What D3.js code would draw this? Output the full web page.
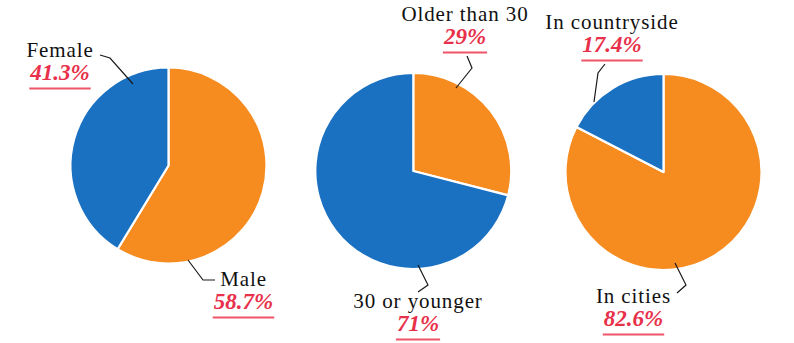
<!DOCTYPE html>
<html><head><meta charset="utf-8">
<script src="https://cdn.jsdelivr.net/npm/d3@7/dist/d3.min.js"></script>
<style>html,body{margin:0;padding:0;background:#fff;}</style>
</head><body>
<svg id="chart" width="794" height="343"></svg>
<script>
// ---- data ----
const pieTitles = ["Gender", "Age", "Residence"];
const firstLabels = ["Male", "Older than 30", "In cities"];
const secondLabels = ["Female", "30 or younger", "In countryside"];
const firstValues = [58.7, 29, 82.6];
const secondValues = [41.3, 71, 17.4];
const valueText = [["58.7%", "41.3%"], ["29%", "71%"], ["82.6%", "17.4%"]];

// ---- layout ----
const R = 98;
const centers = [[168.5, 165.5], [413.3, 171], [663.5, 172]];
const colors = ["#F68B1F", "#1A70C1"];
const labelLayout = [
  [ {x: 243.5, y: 286, leader: [[19.5, 94.5], [34.5, 114.5], [46.5, 114.5]]},
    {x: 60, y: 57, leader: [[-35.5, -81.5], [-58.5, -107.5], [-68.5, -110.5]]} ],
  [ {x: 465, y: 21, leader: [[42.7, -83], [58.7, -103], [53.7, -115]]},
    {x: 418, y: 308, leader: [[4.7, 94], [14.7, 114], [4.7, 121]]} ],
  [ {x: 633.5, y: 303, leader: [[11.5, 91], [22.5, 113], [13.5, 121]]},
    {x: 612, y: 29, leader: [[-69.5, -70], [-65.5, -99], [-58.5, -108]]} ]
];

const svg = d3.select("#chart");
const pie = d3.pie().sort(null).value(d => d.v);
const arc = d3.arc().innerRadius(0).outerRadius(R);
const FONT = '"Liberation Serif"';

pieTitles.forEach((t, i) => {
  const data = [
    {name: firstLabels[i], v: firstValues[i], txt: valueText[i][0], c: colors[0]},
    {name: secondLabels[i], v: secondValues[i], txt: valueText[i][1], c: colors[1]}
  ];
  const [cx, cy] = centers[i];
  const g = svg.append("g").attr("transform", `translate(${cx},${cy})`);
  g.selectAll("path.slice").data(pie(data)).join("path")
    .attr("class", "slice")
    .attr("d", arc)
    .attr("fill", d => d.data.c)
    .attr("stroke", "#fff")
    .attr("stroke-width", 2.2)
    .attr("stroke-linejoin", "round");

  data.forEach((d, j) => {
    const L = labelLayout[i][j];
    g.append("path")
      .attr("d", d3.line()(L.leader))
      .attr("fill", "none")
      .attr("stroke", "#1a1a1a")
      .attr("stroke-width", 1.2);
    svg.append("text")
      .attr("x", L.x).attr("y", L.y)
      .attr("text-anchor", "middle")
      .style("font-family", FONT)
      .style("font-size", "21px")
      .style("letter-spacing", "0.9px")
      .attr("fill", "#111")
      .text(d.name);
    const pct = svg.append("text")
      .attr("x", L.x).attr("y", L.y + 22.5)
      .attr("text-anchor", "middle")
      .style("font-family", FONT)
      .style("font-size", "23px")
      .style("font-weight", "bold")
      .style("font-style", "italic")
      .attr("fill", "#E8304A")
      .text(d.txt);
    const w = pct.node().getComputedTextLength();
    svg.append("line")
      .attr("x1", L.x - w / 2 - 1).attr("x2", L.x + w / 2 + 1)
      .attr("y1", L.y + 31.5).attr("y2", L.y + 31.5)
      .attr("stroke", "#EE5569")
      .attr("stroke-width", 2);
  });
});
</script>
</body></html>
